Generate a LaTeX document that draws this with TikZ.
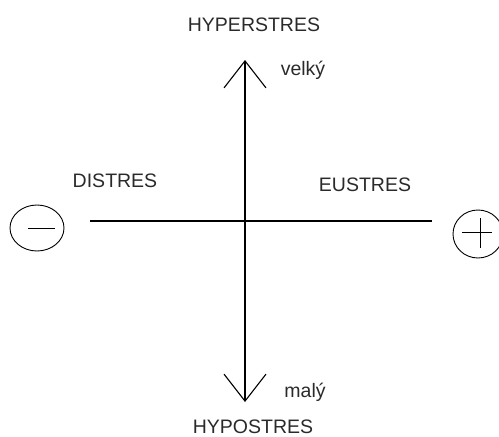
\documentclass[tikz,border=0pt]{standalone}
\usepackage{fontspec}
\setmainfont{Liberation Sans}
\usetikzlibrary{arrows.meta}
\definecolor{StresGray}{HTML}{2A2A2A}

\begin{document}
\begin{tikzpicture}[
    x=1pt, y=-1pt,
    label/.style={text=StresGray, font=\fontsize{19.5}{22}\selectfont, inner sep=0pt},
    axis/.style={line width=1.1pt, draw=black},
    barb/.style={axis, {Straight Barb[length=27pt,width=42pt]}-{Straight Barb[length=27pt,width=42pt]}},
    sign/.style={draw=black, line width=0.9pt}
  ]
    \useasboundingbox (0,0) rectangle (499,437);
    % axis end points
    \coordinate (top) at (245,60);
    \coordinate (bottom) at (245,402);
    \coordinate (left) at (90,221);
    \coordinate (right) at (432,221);
    \draw[barb] (bottom) -- (top);
    \draw[axis] (left) -- (right);
    % labels
    \node[label] (hyper) at (254,25) {HYPERSTRES};
    \node[label] (velky) at (303,70) {velký};
    \node[label] (distres) at (115,181) {DISTRES};
    \node[label] (eustres) at (365,185) {EUSTRES};
    \node[label] (maly) at (305,392) {malý};
    \node[label] (hypo) at (253,427) {HYPOSTRES};
    % signs
    \draw[sign] (37,228) ellipse [x radius=27, y radius=23];
    \draw[sign] (28,228) -- (55,228);
    \draw[sign] (478,234) ellipse [x radius=25, y radius=24];
    \draw[sign] (462,232) -- (492,232);
    \draw[sign] (480,218) -- (480,248);
  \end{tikzpicture}
\end{document}
